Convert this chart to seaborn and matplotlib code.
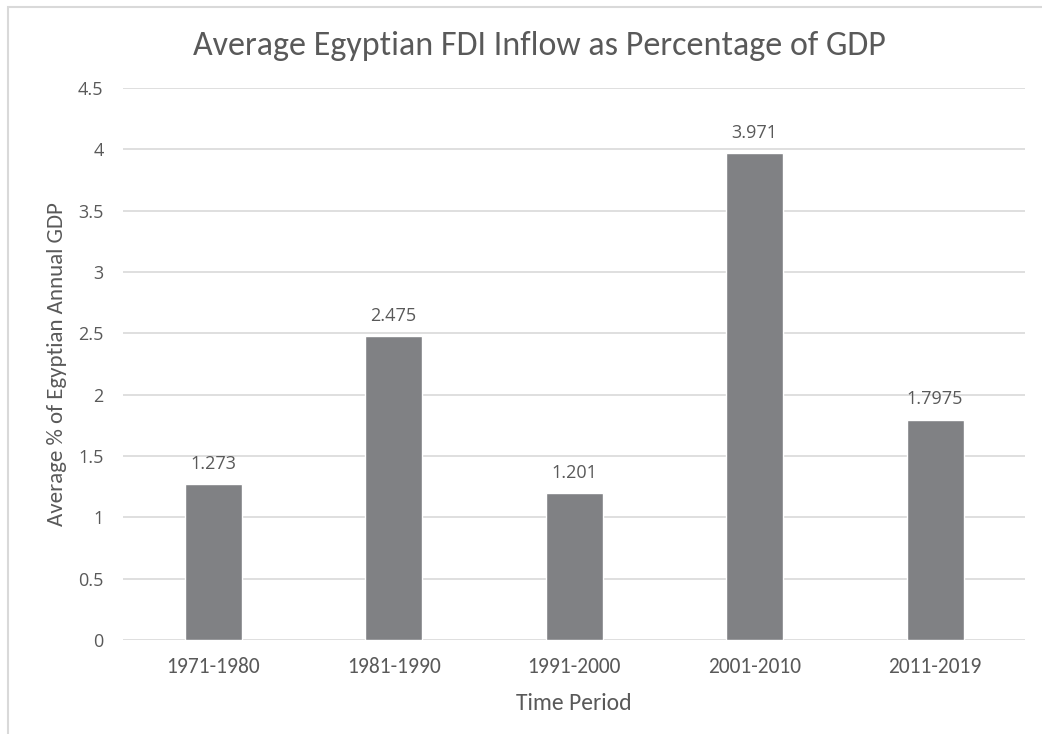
import matplotlib
matplotlib.use("Agg")
import matplotlib.pyplot as plt
from matplotlib.patches import Rectangle
import seaborn as sns
import pandas as pd

periods = ["1971-1980", "1981-1990", "1991-2000", "2001-2010", "2011-2019"]
fdi_share = [1.273, 2.475, 1.201, 3.971, 1.7975]
value_labels = ["1.273", "2.475", "1.201", "3.971", "1.7975"]
y_ticks = [0, 0.5, 1, 1.5, 2, 2.5, 3, 3.5, 4, 4.5]
y_tick_labels = ["0", "0.5", "1", "1.5", "2", "2.5", "3", "3.5", "4", "4.5"]

df = pd.DataFrame({"period": periods, "share": fdi_share})

sns.set_theme(style="white")
narrow = ["Carlito", "DejaVu Sans"]
wide = ["Open Sans", "DejaVu Sans"]
text_color = "#595959"
bar_color = "#808184"
grid_color = "#d9d9d9"

fig = plt.figure(figsize=(10.42, 7.34), dpi=100)
ax = fig.add_axes([0.118, 0.128, 0.866, 0.752])

sns.barplot(data=df, x="period", y="share", color=bar_color, width=0.315,
            saturation=1, ax=ax, zorder=3)

ax.set_ylim(0, 4.5)
ax.set_xlim(-0.5, 4.5)
ax.set_yticks(y_ticks)
ax.set_yticklabels(y_tick_labels, fontfamily=wide, fontsize=13, color=text_color)
ax.set_xticks(range(len(periods)))
ax.set_xticklabels(periods, fontfamily=narrow, fontsize=15.5, color=text_color)
ax.tick_params(axis="both", length=0)
ax.tick_params(axis="y", pad=14)
ax.tick_params(axis="x", pad=12)

for y in y_ticks:
    ax.axhline(y, color=grid_color, linewidth=1.2, zorder=1)
for s in ax.spines.values():
    s.set_visible(False)

for i, (v, lab) in enumerate(zip(fdi_share, value_labels)):
    ax.annotate(lab, (i, v), xytext=(0, 8), textcoords="offset points",
                ha="center", va="bottom", fontfamily=wide, fontsize=13,
                color=text_color)

ax.set_xlabel("Time Period", fontfamily=narrow, fontsize=17, color=text_color,
              labelpad=12)
ax.set_ylabel("Average % of Egyptian Annual GDP", fontfamily=narrow,
              fontsize=16.5, color=text_color, labelpad=8)

fig.text(0.518, 0.938, "Average Egyptian FDI Inflow as Percentage of GDP",
         ha="center", va="center", fontfamily=narrow, fontsize=24.5,
         color=text_color)

fig.patches.append(Rectangle((8 / 1042, -0.1), 1.1, 1.1 - 7 / 734,
                             transform=fig.transFigure, fill=False,
                             edgecolor=grid_color, linewidth=1.5))

fig.savefig("out.png", dpi=100, facecolor="white")
